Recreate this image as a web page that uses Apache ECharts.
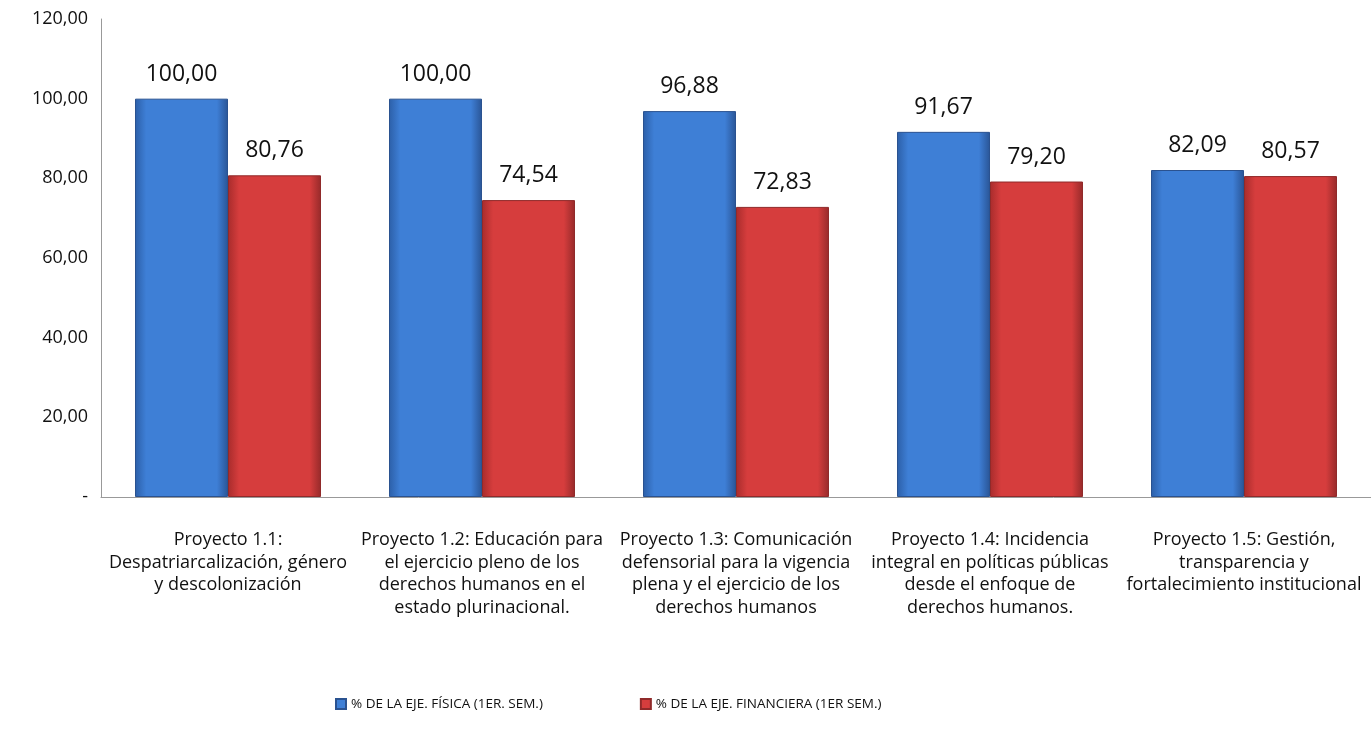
<!DOCTYPE html>
<html><head><meta charset="utf-8">
<script src="https://cdn.jsdelivr.net/npm/echarts@6/dist/echarts.min.js"></script>
<style>html,body{margin:0;padding:0;background:#fff}#c{width:1371px;height:730px}</style>
</head><body><div id="c"></div>
<script>
const categories = [
  "Proyecto 1.1:\nDespatriarcalización, género\ny descolonización",
  "Proyecto 1.2: Educación para\nel ejercicio pleno de los\nderechos humanos en el\nestado plurinacional.",
  "Proyecto 1.3: Comunicación\ndefensorial para la vigencia\nplena y el ejercicio de los\nderechos humanos",
  "Proyecto 1.4: Incidencia\nintegral en políticas públicas\ndesde el enfoque de\nderechos humanos.",
  "Proyecto 1.5: Gestión,\ntransparencia y\nfortalecimiento institucional"
];
const seriesNames = ["% DE LA EJE. FÍSICA (1ER. SEM.)", "% DE LA EJE. FINANCIERA (1ER SEM.)"];
const fisica = [100.00, 100.00, 96.88, 91.67, 82.09];
const financiera = [80.76, 74.54, 72.83, 79.20, 80.57];
const yTicks = [0, 20, 40, 60, 80, 100, 120];

const fmt = v => v === 0 ? "-" : v.toFixed(2).replace(".", ",");
const grad = (a, b, c) => new echarts.graphic.LinearGradient(0, 0, 1, 0, [
  {offset: 0, color: b}, {offset: 0.12, color: a}, {offset: 0.88, color: a}, {offset: 1, color: c}
]);
const font = "'Open Sans', 'Noto Sans', sans-serif";
const chart = echarts.init(document.getElementById('c'));
chart.setOption({
  animation: false,
  textStyle: {fontFamily: font},
  grid: {left: 101, top: 19, right: 0, bottom: 233, containLabel: false},
  legend: {
    bottom: 14, left: 330, itemWidth: 10, itemHeight: 10, itemGap: 97,
    icon: 'rect',
    textStyle: {fontFamily: font, fontSize: 13.5, color: '#111'},
    data: seriesNames
  },
  xAxis: {
    type: 'category', data: categories,
    axisLine: {lineStyle: {color: '#999'}},
    axisTick: {show: false},
    axisLabel: {interval: 0, fontSize: 18, color: '#111', lineHeight: 22.5, margin: 32, fontFamily: font}
  },
  yAxis: {
    type: 'value', min: 0, max: 120, interval: 20,
    axisLine: {show: true, lineStyle: {color: '#999'}},
    axisTick: {show: false},
    splitLine: {show: false},
    axisLabel: {formatter: fmt, fontSize: 18, color: '#111', margin: 13, fontFamily: font}
  },
  series: [
    {
      name: seriesNames[0], type: 'bar', data: fisica, barWidth: 93, barGap: '0%',
      itemStyle: {color: grad('#3e7fd6', '#2c5fa8', '#2a5596'), borderColor: '#2a5290', borderWidth: 1},
      label: {show: true, position: 'top', distance: 13, formatter: p => fmt(p.value), fontSize: 23, color: '#111', fontFamily: font}
    },
    {
      name: seriesNames[1], type: 'bar', data: financiera, barWidth: 93,
      itemStyle: {color: grad('#d63d3d', '#a82c2c', '#962a2a'), borderColor: '#902a2a', borderWidth: 1},
      label: {show: true, position: 'top', distance: 13, formatter: p => fmt(p.value), fontSize: 23, color: '#111', fontFamily: font}
    }
  ]
});
</script></body></html>
